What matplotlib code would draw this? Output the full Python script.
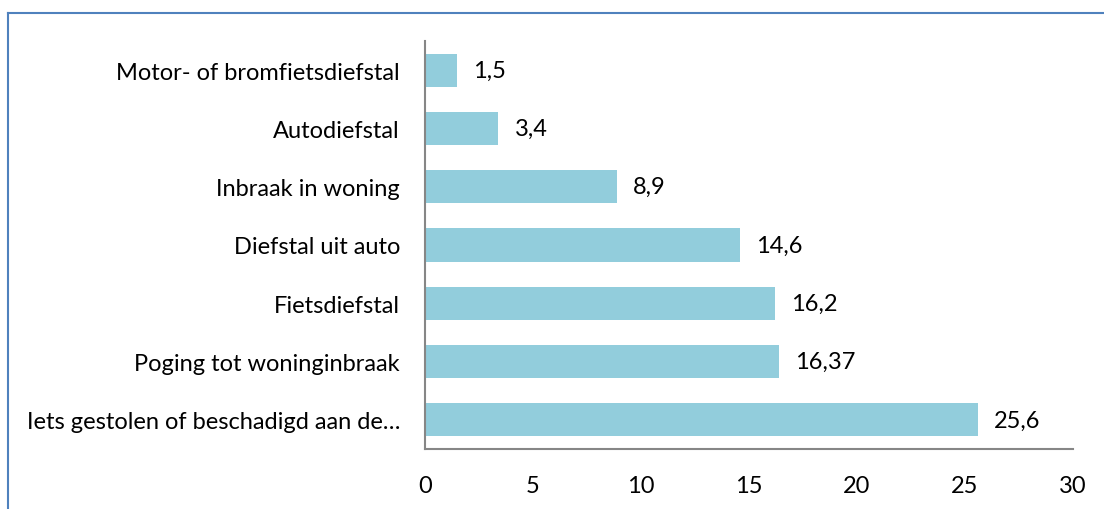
import matplotlib
matplotlib.use("Agg")
import matplotlib.pyplot as plt
from matplotlib.lines import Line2D

categories = [
    "Iets gestolen of beschadigd aan de…",
    "Poging tot woninginbraak",
    "Fietsdiefstal",
    "Diefstal uit auto",
    "Inbraak in woning",
    "Autodiefstal",
    "Motor- of bromfietsdiefstal",
]
values = [25.6, 16.37, 16.2, 14.6, 8.9, 3.4, 1.5]
value_labels = ["25,6", "16,37", "16,2", "14,6", "8,9", "3,4", "1,5"]
xticks = [0, 5, 10, 15, 20, 25, 30]

plt.rcParams['font.family'] = ['Lato', 'DejaVu Sans']
FS = 17

fig = plt.figure(figsize=(11.04, 5.10), dpi=100)
ax = fig.add_axes([425/1104, 1-450/510, (1073-425)/1104, (450-42)/510])

y = list(range(len(categories)))
ax.barh(y, values, height=0.57, color="#92CDDC", edgecolor="none")
ax.set_ylim(-0.5, len(categories)-0.5)
ax.set_xlim(0, 30)
ax.set_xticks(xticks)
ax.set_xticklabels([str(t) for t in xticks], fontsize=FS)
ax.set_yticks(y)
ax.set_yticklabels(categories, fontsize=FS)
ax.tick_params(axis='both', length=0)
ax.tick_params(axis='y', pad=18)
ax.tick_params(axis='x', pad=19)
for s in ["top", "right"]:
    ax.spines[s].set_visible(False)
for s in ["left", "bottom"]:
    ax.spines[s].set_color("#868686")
    ax.spines[s].set_linewidth(1.5)

for yi, v, lab in zip(y, values, value_labels):
    ax.annotate(lab, (v, yi), xytext=(16, 0), textcoords="offset pixels",
                va="center", ha="left", fontsize=FS)

# outer chart frame (cropped)
fig.add_artist(Line2D([8/1104, 8/1104], [0, 1-14/510], transform=fig.transFigure,
                      color="#4F81BD", linewidth=1.5))
fig.add_artist(Line2D([8/1104, 1], [1-14/510, 1-14/510], transform=fig.transFigure,
                      color="#4F81BD", linewidth=1.5))

fig.savefig("out.png", dpi=100)
